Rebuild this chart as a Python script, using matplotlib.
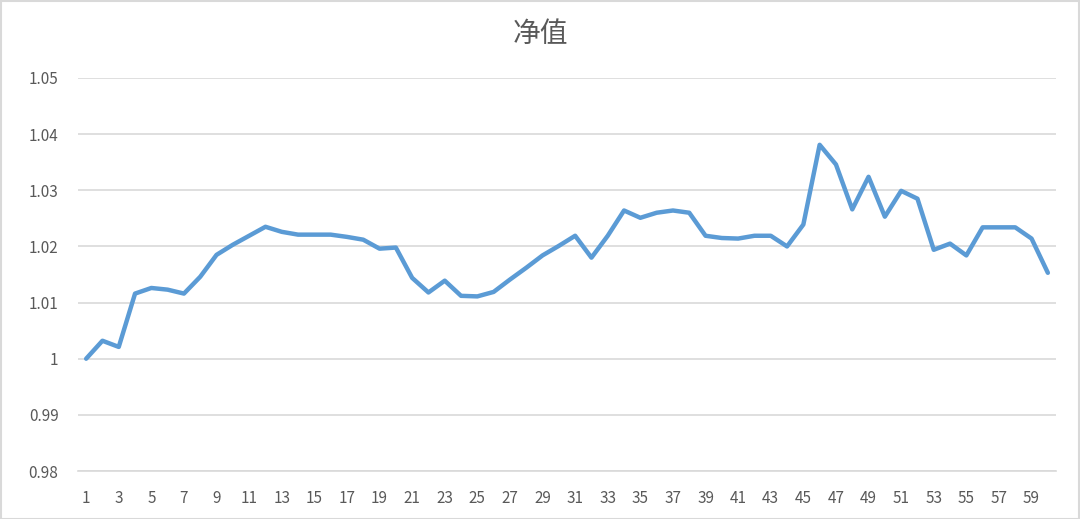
import numpy as np
import matplotlib
matplotlib.use("Agg")
from matplotlib import pyplot as plt
from matplotlib.patches import Rectangle

plt.rcParams['font.family'] = ['Noto Sans CJK SC', 'DejaVu Sans']

# net value series
days = list(range(1, 61))
net_value = [
    1.0000, 1.0032, 1.0021, 1.0116, 1.0126, 1.0123, 1.0116, 1.0146, 1.0185, 1.0203,
    1.0219, 1.0235, 1.0226, 1.0221, 1.0221, 1.0221, 1.0217, 1.0212, 1.0196, 1.0198,
    1.0144, 1.0118, 1.0139, 1.0112, 1.0111, 1.0119, 1.0141, 1.0162, 1.0184, 1.0201,
    1.0219, 1.0180, 1.0219, 1.0264, 1.0251, 1.0260, 1.0264, 1.0260, 1.0219, 1.0215,
    1.0214, 1.0219, 1.0219, 1.0200, 1.0239, 1.0381, 1.0346, 1.0266, 1.0324, 1.0253,
    1.0299, 1.0285, 1.0194, 1.0205, 1.0184, 1.0234, 1.0234, 1.0234, 1.0214, 1.0153,
]
y_ticks = [0.98, 0.99, 1.00, 1.01, 1.02, 1.03, 1.04, 1.05]
y_labels = ["0.98", "0.99", "1", "1.01", "1.02", "1.03", "1.04", "1.05"]

W, H = 1080, 519
fig = plt.figure(figsize=(W / 100, H / 100), dpi=100)
ax = fig.add_axes([78 / W, 1 - 471 / H, (1056 - 78) / W, (471 - 78) / H])

ax.plot(days, net_value, color="#5B9BD5", linewidth=3.2, solid_joinstyle="round",
        solid_capstyle="round", zorder=3)

ax.set_xlim(0.5, 60.5)
ax.set_ylim(0.98, 1.05)
ax.set_yticks(y_ticks)
ax.set_yticklabels(y_labels)
ax.set_xticks(days[::2])
ax.set_xticklabels([str(d) for d in days[::2]])

ax.grid(axis="y", color="#D9D9D9", linewidth=1.2)
ax.set_axisbelow(True)
for s in ["top", "right", "left"]:
    ax.spines[s].set_visible(False)
ax.spines["bottom"].set_color("#D9D9D9")
ax.spines["bottom"].set_linewidth(1.2)
ax.tick_params(axis="both", length=0, labelsize=11, labelcolor="#595959")
ax.tick_params(axis="x", pad=14)
ax.tick_params(axis="y", pad=14)

fig.text(0.5, 1 - 34 / H, "净值", ha="center", va="center", fontsize=20, color="#595959")

# thin outer frame like the exported chart
fig.patches.append(Rectangle((0.5 / W, 0.5 / H), 1 - 1.5 / W, 1 - 1.5 / H,
                             transform=fig.transFigure, fill=False,
                             edgecolor="#D9D9D9", linewidth=1.5))

fig.savefig("out.png", dpi=100)
